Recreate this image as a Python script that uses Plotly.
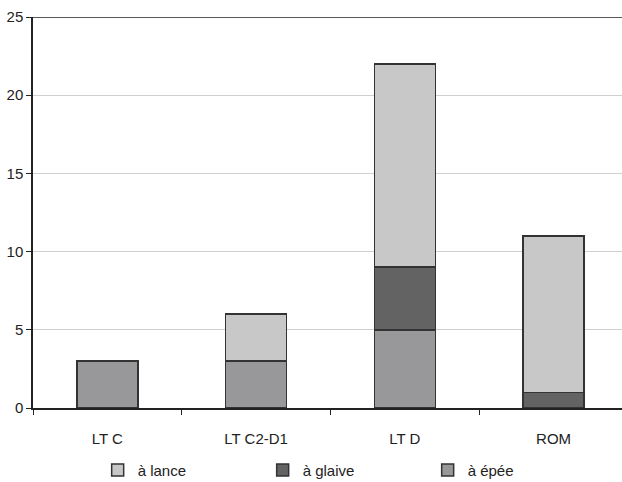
import plotly.graph_objects as go

categories = ["LT C", "LT C2-D1", "LT D", "ROM"]
epee = [3, 3, 5, None]
glaive = [None, None, 4, 1]
lance = [None, 3, 13, 10]

series = [
    ("à épée", epee, "#98989b"),
    ("à glaive", glaive, "#636363"),
    ("à lance", lance, "#c8c8c8"),
]

fig = go.Figure()
for name, vals, color in series:
    fig.add_trace(go.Bar(
        x=categories, y=vals, name=name, width=0.41,
        marker=dict(color=color, line=dict(color="#333333", width=1.5)),
    ))

font = dict(family="Liberation Sans, Arial, sans-serif", size=15, color="#222222")

fig.update_layout(
    barmode="stack",
    width=622, height=482,
    margin=dict(l=33, r=0, t=17, b=74, autoexpand=False),
    plot_bgcolor="white", paper_bgcolor="white",
    font=font,
    showlegend=True,
    legend=dict(
        orientation="h", traceorder="reversed",
        x=0.53, xanchor="center", y=-0.159, yanchor="middle",
        entrywidth=120, entrywidthmode="pixels",
        font=dict(family="Liberation Sans, Arial, sans-serif", size=15, color="#222222"),
    ),
    xaxis=dict(
        range=[-0.5, 3.46], showline=True, linecolor="#222222", linewidth=1.5,
        ticks="outside", tickson="boundaries", ticklen=5, tickcolor="#222222",
        showgrid=False, ticklabelstandoff=16,
    ),
    yaxis=dict(
        range=[0, 25], tickvals=[0, 5, 10, 15, 20, 25],
        showline=True, linecolor="#222222", linewidth=1.5,
        ticks="outside", ticklen=5, tickcolor="#222222",
        showgrid=True, gridcolor="#d0d0d0", gridwidth=1,
        zeroline=False, ticklabelstandoff=0,
    ),
)

fig.add_shape(type="line", xref="paper", yref="y", x0=0, x1=1, y0=25, y1=25,
              line=dict(color="#222222", width=1.5))

# drop the default body margin so the figure sits at the page corner
fig.write_html("out.html", config={"displayModeBar": False},
               post_script="document.body.style.margin = '0';")
